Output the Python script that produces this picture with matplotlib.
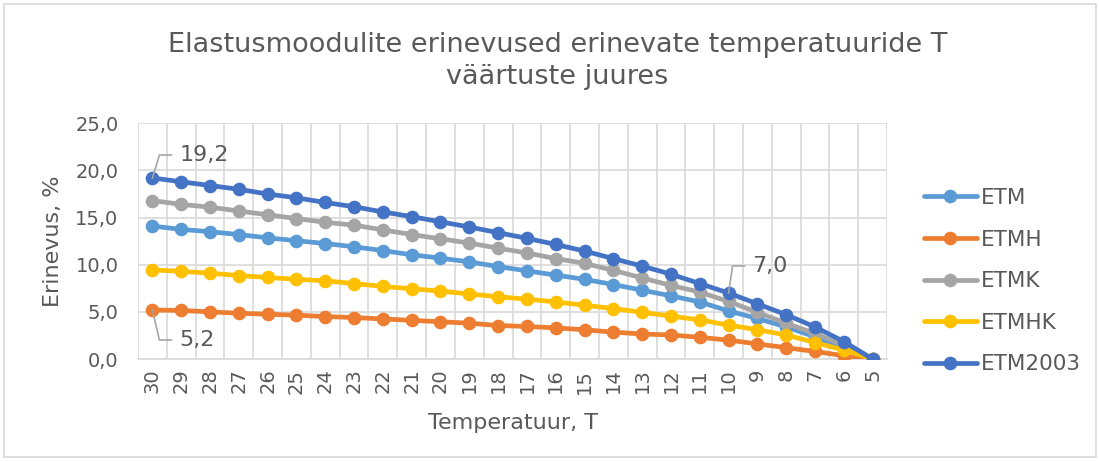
import matplotlib
matplotlib.use("Agg")
import matplotlib.pyplot as plt
from matplotlib.patches import Rectangle
from matplotlib.lines import Line2D
from matplotlib.transforms import IdentityTransform

plt.rcParams['font.family'] = ['DejaVu Sans']

temperatures = ["30", "29", "28", "27", "26", "25", "24", "23", "22", "21", "20", "19", "18",
                "17", "16", "15", "14", "13", "12", "11", "10", "9", "8", "7", "6", "5"]

etm = [14.1, 13.75, 13.5, 13.2, 12.85, 12.55, 12.25, 11.9, 11.5, 11.05, 10.7, 10.3, 9.8,
       9.35, 8.9, 8.45, 7.9, 7.3, 6.7, 6.05, 5.1, 4.3, 3.4, 2.35, 1.15, 0.0]
etmh = [5.2, 5.15, 5.0, 4.85, 4.75, 4.65, 4.5, 4.4, 4.25, 4.1, 3.95, 3.8, 3.55,
        3.45, 3.3, 3.1, 2.85, 2.65, 2.55, 2.3, 2.0, 1.6, 1.2, 0.8, 0.35, 0.0]
etmk = [16.8, 16.4, 16.1, 15.7, 15.3, 14.9, 14.5, 14.2, 13.7, 13.2, 12.75, 12.3, 11.75,
        11.25, 10.65, 10.15, 9.4, 8.6, 7.8, 7.1, 6.1, 4.95, 3.8, 2.7, 1.45, 0.0]
etmhk = [9.45, 9.3, 9.1, 8.85, 8.65, 8.45, 8.3, 8.0, 7.7, 7.45, 7.2, 6.9, 6.6,
         6.35, 6.05, 5.7, 5.35, 4.95, 4.55, 4.15, 3.6, 3.1, 2.55, 1.75, 0.95, 0.0]
etm2003 = [19.2, 18.8, 18.4, 18.0, 17.5, 17.1, 16.6, 16.15, 15.6, 15.1, 14.55, 14.0, 13.4,
           12.8, 12.15, 11.45, 10.65, 9.85, 9.0, 8.0, 7.0, 5.85, 4.7, 3.4, 1.85, 0.0]

series_names = ["ETM", "ETMH", "ETMK", "ETMHK", "ETM2003"]
series_values = [etm, etmh, etmk, etmhk, etm2003]
series_colors = ["#5B9BD5", "#ED7D31", "#A5A5A5", "#FFC000", "#4472C4"]

TEXT = "#595959"
GRID = "#D9D9D9"

W, H = 1099, 461
fig = plt.figure(figsize=(W / 100, H / 100), dpi=100)
fig.patch.set_facecolor("white")
fig.patches.append(Rectangle((4 / W, 4 / H), 1092 / W, 453 / H, transform=fig.transFigure,
                             fill=False, edgecolor=GRID, linewidth=1.2))

ax = fig.add_axes([138 / W, 1 - 359 / H, (887 - 138) / W, (359 - 123.3) / H])

x = list(range(len(temperatures)))
for name, vals, col in zip(series_names, series_values, series_colors):
    ax.plot(x, vals, color=col, linewidth=3.4, marker="o", markersize=8.8,
            solid_capstyle="round", label=name, zorder=3)

ax.set_xlim(-0.5, len(temperatures) - 0.5)
ax.set_ylim(0, 25)
ax.set_yticks([0, 5, 10, 15, 20, 25])
ax.set_yticklabels([f"{v:.1f}".replace(".", ",") for v in [0, 5, 10, 15, 20, 25]])
ax.set_xticks(x)
ax.set_xticklabels(temperatures, rotation=90)
ax.set_xticks([i - 0.5 for i in range(len(temperatures) + 1)], minor=True)

ax.tick_params(axis="both", which="both", length=0, colors=TEXT, labelsize=14)
ax.tick_params(axis="y", pad=14)
ax.tick_params(axis="x", pad=7)
ax.grid(True, axis="y", which="major", color=GRID, linewidth=1.2, zorder=0)
ax.grid(True, axis="x", which="minor", color=GRID, linewidth=1.2, zorder=0)
for s in ["top", "right", "left"]:
    ax.spines[s].set_visible(False)
ax.spines["bottom"].set_color(GRID)
ax.spines["bottom"].set_linewidth(1.2)

ax.set_xlabel("Temperatuur, T", fontsize=16, color=TEXT, labelpad=14)
ax.set_ylabel("Erinevus, %", fontsize=16, color=TEXT, labelpad=9)

fig.text(0.507, 1 - 61 / H, "Elastusmoodulite erinevused erinevate temperatuuride T\nväärtuste juures",
         ha="center", va="center", fontsize=19.5, color=TEXT, linespacing=1.28)

leg = ax.legend(loc="upper left", bbox_to_anchor=(924 / W, 1 - 188 / H),
                bbox_transform=fig.transFigure, frameon=False, fontsize=15.5,
                handlelength=2.45, handletextpad=0.2, labelspacing=1.0,
                borderaxespad=0, borderpad=0)
for t in leg.get_texts():
    t.set_color(TEXT)

# data labels with leader lines
labels = [(etm2003, 0, (7, 23), (19, 23)),
          (etmh, 0, (7, -30), (19, -30)),
          (etm2003, 20, (4, 27), (16, 27))]
for vals, idx, p1, p2 in labels:
    px, py = ax.transData.transform((idx, vals[idx]))
    line = Line2D([px, px + p1[0], px + p2[0]], [py, py + p1[1], py + p2[1]],
                  transform=IdentityTransform(), color="#A6A6A6", linewidth=1.2, zorder=4)
    fig.add_artist(line)
    fig.text((px + p2[0] + 8) / W, (py + p2[1]) / H, f"{vals[idx]:.1f}".replace(".", ","),
             ha="left", va="center", fontsize=16, color=TEXT)

fig.savefig("out.png", dpi=100, facecolor="white")
